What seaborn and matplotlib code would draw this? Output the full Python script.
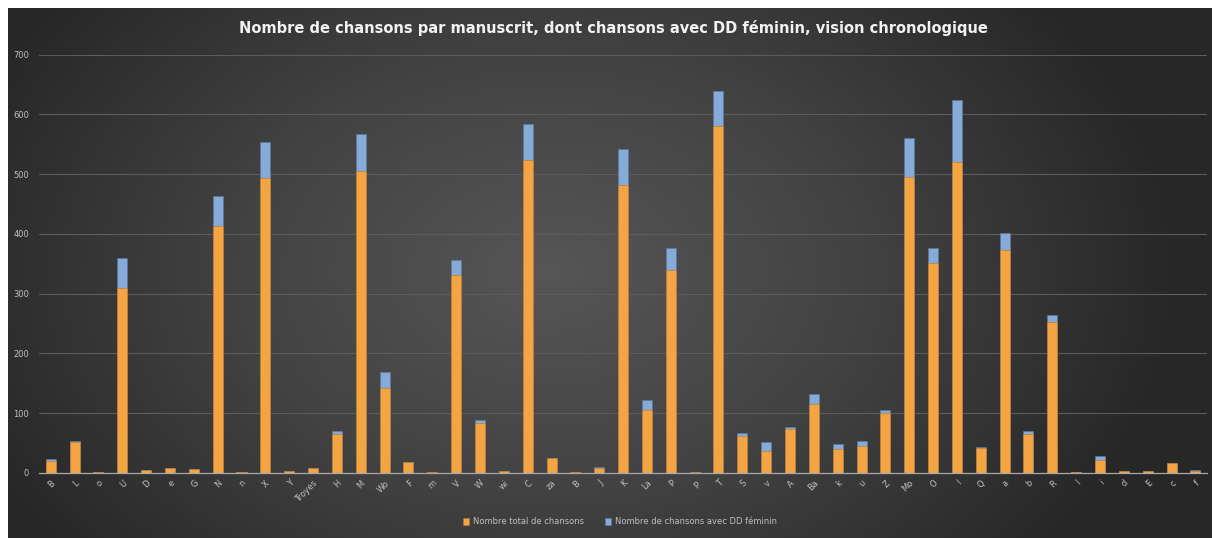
import numpy as np
import pandas as pd
import matplotlib
matplotlib.use("Agg")
import matplotlib.pyplot as plt
import seaborn as sns

manuscrits = ["B", "L", "o", "U", "D", "e", "G", "N", "n", "X", "Y", "Troyes", "H", "M", "Wo",
              "F", "m", "V", "W", "wi", "C", "za", "B", "J", "K", "La", "P", "p", "T", "S",
              "v", "A", "Ba", "k", "u", "Z", "Mo", "O", "I", "Q", "a", "b", "R", "I", "i",
              "d", "E", "c", "f"]
total = [20, 52, 1, 309, 5, 8, 6, 413, 2, 493, 4, 8, 65, 505, 143,
         19, 1, 332, 84, 3, 523, 25, 1, 8, 482, 106, 339, 1, 580, 62,
         37, 74, 115, 40, 45, 101, 495, 352, 521, 42, 374, 66, 253, 1, 22,
         3, 3, 17, 4]
feminin = [4, 1, 0, 50, 0, 0, 0, 50, 0, 61, 0, 0, 5, 62, 26,
           0, 0, 24, 4, 0, 61, 0, 0, 2, 61, 16, 38, 0, 60, 5,
           15, 3, 17, 9, 8, 4, 66, 24, 104, 2, 28, 4, 11, 0, 7,
           0, 0, 0, 1]

titre = "Nombre de chansons par manuscrit, dont chansons avec DD féminin, vision chronologique"

df = pd.DataFrame({"pos": range(len(manuscrits)), "manuscrit": manuscrits,
                   "total": total, "feminin": feminin})
df["cumul"] = df["total"] + df["feminin"]

orange = "#f5a443"
bleu = "#86abd9"
gris = "#bfbfbf"

sns.set_style("dark")
plt.rcParams["font.family"] = ["DejaVu Sans"]

fig = plt.figure(figsize=(12.15, 5.38), dpi=100)
fig.patch.set_facecolor("white")

# fond en degrade
bg = fig.add_axes([8 / 1215, 0, 1204 / 1215, 530 / 538])
xx, yy = np.meshgrid(np.linspace(-1, 1, 400), np.linspace(-1, 1, 200))
r = np.sqrt(((xx + 0.1) / 1.0) ** 2 + (yy / 1.6) ** 2)
bg.imshow(r, cmap=matplotlib.colors.LinearSegmentedColormap.from_list(
    "fond", ["#565656", "#424242", "#272727"]), aspect="auto", vmin=0, vmax=1.05)
bg.set_axis_off()

ax = fig.add_axes([38.8 / 1215, 1 - 473 / 538, 1168.5 / 1215, (473 - 54.7) / 538])
ax.patch.set_alpha(0)

sns.barplot(data=df, x="pos", y="cumul", color=bleu, width=0.42, ax=ax,
            saturation=1, edgecolor="#5a7aa0", linewidth=0.4, label="Nombre de chansons avec DD féminin")
sns.barplot(data=df, x="pos", y="total", color=orange, width=0.42, ax=ax,
            saturation=1, edgecolor="#b5752a", linewidth=0.4, label="Nombre total de chansons")

handles, labels = ax.get_legend_handles_labels()
if ax.get_legend() is not None:
    ax.get_legend().remove()

ax.set_ylim(0, 700)
ax.set_xlim(-0.5, len(manuscrits) - 0.5)
ax.set_yticks(range(0, 701, 100))
ax.yaxis.grid(True, color="#5c5c5c", linewidth=0.8)
ax.xaxis.grid(False)
ax.set_axisbelow(True)
for s in ["top", "right", "left"]:
    ax.spines[s].set_visible(False)
ax.spines["bottom"].set_color("#a8a8a8")
ax.spines["bottom"].set_linewidth(0.9)
ax.set_xlabel("")
ax.set_ylabel("")
ax.set_xticks(df["pos"])
ax.set_xticklabels(manuscrits, rotation=45, ha="right", rotation_mode="anchor",
                   fontsize=6, color=gris)
ax.tick_params(axis="y", labelsize=6, colors=gris, length=0, pad=7)
ax.tick_params(axis="x", length=0, pad=4)

fig.text(0.505, 1 - 28 / 538, titre, ha="center", va="center", fontsize=10.5,
         fontweight="bold", color="#f2f2f2")

order = [1, 0]
leg = fig.legend([handles[i] for i in order], [labels[i] for i in order],
                 loc="center", bbox_to_anchor=(0.51, 1 - 522 / 538), ncol=2,
                 frameon=False, fontsize=6, handlelength=0.8, handleheight=0.8,
                 columnspacing=2.5, handletextpad=0.4)
for t in leg.get_texts():
    t.set_color(gris)

fig.savefig("out.png", dpi=100)
